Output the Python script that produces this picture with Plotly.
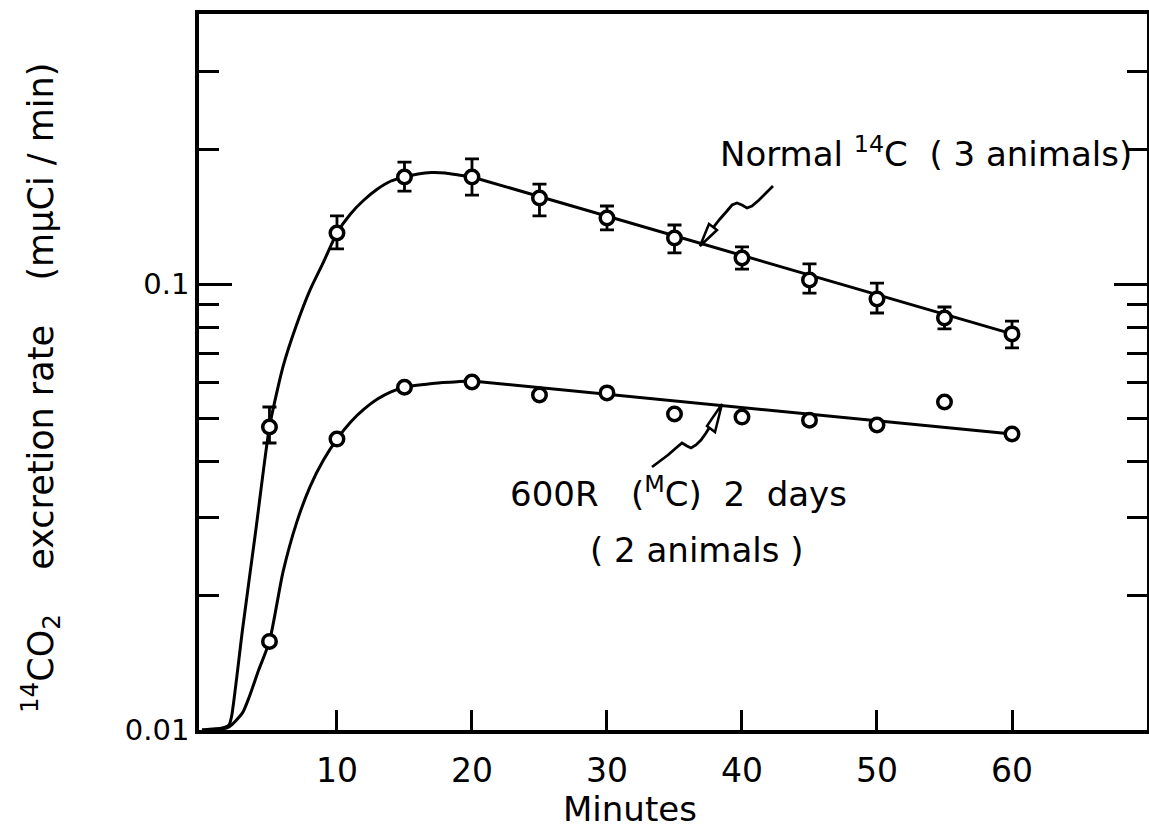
import plotly.graph_objects as go

# ---------------- data ----------------
minutes = [5, 10, 15, 20, 25, 30, 35, 40, 45, 50, 55, 60]

normal_rate = [0.0478, 0.1301, 0.1738, 0.1738, 0.1559, 0.1406, 0.1268, 0.1144, 0.1021, 0.0926, 0.0839, 0.0773]
normal_upper = [0.0530, 0.1421, 0.1877, 0.1907, 0.1675, 0.1496, 0.1356, 0.1211, 0.1109, 0.1005, 0.0888, 0.0826]
normal_lower = [0.0440, 0.1199, 0.1616, 0.1583, 0.1421, 0.1322, 0.1174, 0.1080, 0.0954, 0.0861, 0.0793, 0.0719]

irr_rate = [0.0158, 0.0449, 0.0587, 0.0603, 0.0564, 0.0570, 0.0511, 0.0503, 0.0495, 0.0483, 0.0544, 0.0461]

# fitted curves
normal_fit_x = [0, 1.5, 2.0, 2.2, 3.0, 4.0, 5.0, 6.0, 7.0, 8.0, 9.0, 10, 11, 12, 13, 14, 15, 16, 17, 18, 19, 20]
normal_fit_y = [0.0100, 0.0101, 0.01026, 0.01075, 0.01676, 0.02823, 0.0478, 0.0652, 0.0809, 0.0969, 0.1120,
                0.1301, 0.1436, 0.1543, 0.1633, 0.1702, 0.1738, 0.1765, 0.1778, 0.1774, 0.1756, 0.1738]
normal_tail_x = [20, 60]
normal_tail_y = [0.1738, 0.0773]

irr_fit_x = [0, 1.0, 2.0, 3.0, 3.5, 4.2, 5.0, 6.0, 7.0, 8.0, 9.0, 10, 11, 12, 13, 14, 15, 17.5, 20]
irr_fit_y = [0.0100, 0.0100, 0.01016, 0.01092, 0.01186, 0.01363, 0.0158, 0.0226, 0.0291, 0.0351, 0.0403,
             0.0449, 0.0490, 0.0524, 0.0552, 0.0573, 0.0587, 0.0600, 0.0606]
irr_tail_x = [20, 60]
irr_tail_y = [0.0606, 0.0461]

x_ticks = [10, 20, 30, 40, 50, 60]
y_major = [0.01, 0.1]
y_major_text = ["0.01", "0.1"]
y_minor = [0.02, 0.03, 0.04, 0.05, 0.06, 0.07, 0.08, 0.09, 0.2, 0.3]

# ---------------- figure ----------------
W, H = 1149, 832
L, R, T, B = 199, 2, 14, 102
FONT = "DejaVu Sans"
INK = "black"
NB = "\u00a0"

fig = go.Figure()

line_style = dict(color=INK, width=3)
fig.add_trace(go.Scatter(x=normal_fit_x, y=normal_fit_y, mode="lines",
                         line=dict(shape="spline", smoothing=0.6, **line_style), hoverinfo="skip"))
fig.add_trace(go.Scatter(x=normal_tail_x, y=normal_tail_y, mode="lines", line=line_style, hoverinfo="skip"))
fig.add_trace(go.Scatter(x=irr_fit_x, y=irr_fit_y, mode="lines",
                         line=dict(shape="spline", smoothing=0.6, **line_style), hoverinfo="skip"))
fig.add_trace(go.Scatter(x=irr_tail_x, y=irr_tail_y, mode="lines", line=line_style, hoverinfo="skip"))

err_plus = [u - v for u, v in zip(normal_upper, normal_rate)]
err_minus = [v - l for v, l in zip(normal_rate, normal_lower)]

marker_style = dict(symbol="circle", size=13.5, color="white", line=dict(color=INK, width=3.5))
fig.add_trace(go.Scatter(x=minutes, y=normal_rate, mode="markers", marker=marker_style,
                         error_y=dict(type="data", array=err_plus, arrayminus=err_minus,
                                      color=INK, thickness=2.8, width=7)))
fig.add_trace(go.Scatter(x=minutes, y=irr_rate, mode="markers", marker=marker_style))

# dummy trace for the right-hand axis
fig.add_trace(go.Scatter(x=[None], y=[None], yaxis="y2", showlegend=False, hoverinfo="skip"))

yrange = [-2, -0.3946]
common_y = dict(type="log", range=yrange, tickmode="array", tickvals=y_major,
                ticks="inside", ticklen=33, tickwidth=3, tickcolor=INK,
                minor=dict(tickmode="array", tickvals=y_minor, ticks="inside",
                           ticklen=20, tickwidth=3, tickcolor=INK, showgrid=False),
                showgrid=False, zeroline=False, showline=True, linewidth=3.5, linecolor=INK)

fig.update_layout(
    width=W, height=H, margin=dict(l=L, r=R, t=T, b=B),
    paper_bgcolor="white", plot_bgcolor="white", showlegend=False,
    font=dict(family=FONT, color=INK, size=28),
    xaxis=dict(range=[-0.22, 70.0], tickmode="array", tickvals=x_ticks,
               ticktext=[str(v) for v in x_ticks],
               ticks="inside", ticklen=20, tickwidth=2.5, tickcolor=INK,
               tickfont=dict(size=33), ticklabelstandoff=9,
               showgrid=False, zeroline=False, showline=True, mirror=True,
               linewidth=3.5, linecolor=INK),
    yaxis=dict(ticktext=y_major_text, tickfont=dict(size=29), ticklabelstandoff=0, **common_y),
    yaxis2=dict(overlaying="y", side="right", showticklabels=False, **common_y),
)

def px2paper(px, py):
    return (px - L) / (W - L - R), (H - B - py) / (H - T - B)

def path_from(points):
    pts = [px2paper(*p) for p in points]
    s = "M {:.5f} {:.5f}".format(*pts[0])
    for p in pts[1:]:
        s += " L {:.5f} {:.5f}".format(*p)
    return s

# wavy leader lines (pixel sketch of the pointer strokes)
normal_leader = [(773, 186), (766, 193), (759, 200), (752, 206), (747, 208), (742, 205), (737, 203),
                 (732, 205), (727, 211), (720, 219), (712, 229), (705, 238)]
normal_head = [(700, 246), (709, 224), (717, 230), (700, 246)]
irr_leader = [(652, 467), (660, 461), (668, 455), (676, 448), (682, 443), (687, 446), (691, 448),
              (696, 445), (701, 440), (706, 433), (711, 425)]
irr_head = [(722, 404), (707, 426), (715, 432), (722, 404)]

for pts in (normal_leader, irr_leader):
    fig.add_shape(type="path", xref="paper", yref="paper", path=path_from(pts),
                  line=dict(color=INK, width=2.8))
for pts in (normal_head, irr_head):
    fig.add_shape(type="path", xref="paper", yref="paper", path=path_from(pts) + " Z",
                  line=dict(color=INK, width=2.5), fillcolor="white")

def add_text(text, px, py, size=34, anchor="left", angle=0, yanchor="middle"):
    x, y = px2paper(px, py)
    fig.add_annotation(text=text, x=x, y=y, xref="paper", yref="paper", showarrow=False,
                       xanchor=anchor, yanchor=yanchor, textangle=angle,
                       font=dict(family=FONT, size=size, color=INK))

add_text("Normal <sup>14</sup>C  ( 3 animals)", 718, 152)
add_text("600R" + NB * 2 + " (<sup>M</sup>C)" + NB + " 2" + NB + " days", 508, 492)
add_text("( 2 animals )", 588, 550)
add_text("Minutes", 630, 831, size=34, anchor="center", yanchor="bottom")
add_text("<sup>14</sup>CO<sub>2</sub>" + NB * 3 + " excretion rate " + NB * 3 + "(m\u03bcCi / min)",
         40, 388, size=35, anchor="center", angle=-90)

fig.write_html("out.html")
